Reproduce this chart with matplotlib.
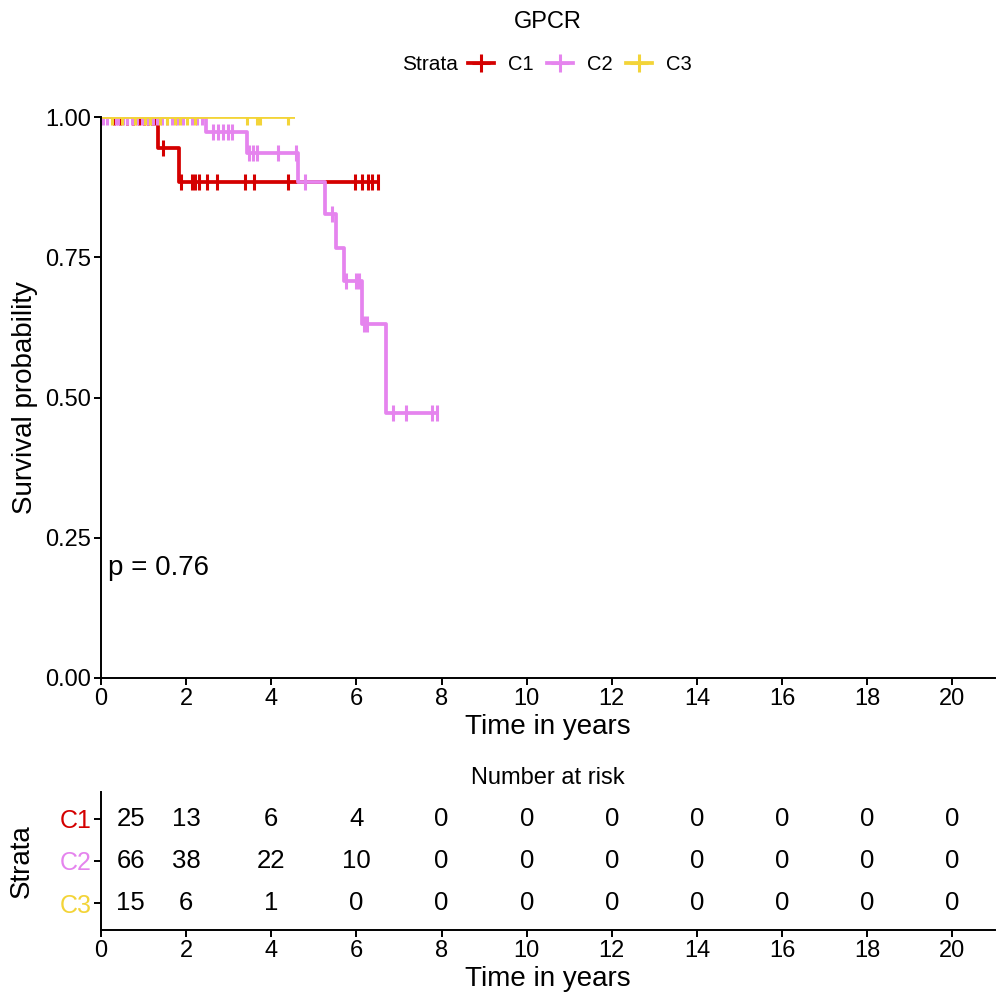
import matplotlib
matplotlib.use("Agg")
import matplotlib.pyplot as plt
from matplotlib.lines import Line2D
import numpy as np

plt.rcParams['font.family'] = ['Liberation Sans', 'DejaVu Sans']

# ---------------- data ----------------
strata = ["C1", "C2", "C3"]
colors = ["#D40000", "#E584EE", "#F3D438"]

c1_event_times = [1.34, 1.83]
c1_event_surv = [0.944, 0.885]
c1_end = 6.5
c1_censor = [0.3, 0.45, 0.6, 0.75, 0.9, 1.0, 1.1, 1.2, 1.28, 1.46, 1.88, 2.14,
             2.21, 2.30, 2.49, 2.72, 3.38, 3.59, 4.39, 5.96, 6.13, 6.27, 6.36, 6.5]

c2_event_times = [2.46, 3.43, 4.62, 5.26, 5.52, 5.70, 6.13, 6.69]
c2_event_surv = [0.973, 0.936, 0.884, 0.827, 0.766, 0.708, 0.631, 0.472]
c2_end = 7.9
c2_censor = [0.05, 0.15, 0.35, 0.4, 0.52, 0.6, 0.72, 0.84, 0.96, 1.1, 1.22, 1.31,
             1.43, 1.55, 1.67, 1.78, 1.92, 2.14, 2.25, 2.37,
             2.63, 2.75, 2.86, 2.98, 3.08, 3.47, 3.57, 3.66, 4.15, 4.58, 4.79,
             5.42, 5.75, 5.99, 6.06, 6.17, 6.24, 6.85, 7.16, 7.77, 7.9]

c3_event_times = []
c3_event_surv = []
c3_end = 4.55
c3_censor = [0.25, 0.5, 0.8, 1.03, 1.15, 1.39, 1.55, 1.74, 1.86, 2.02, 2.2,
             3.43, 3.66, 3.73, 4.4]

risk_times = [0, 2, 4, 6, 8, 10, 12, 14, 16, 18, 20]
risk_c1 = [25, 13, 6, 4, 0, 0, 0, 0, 0, 0, 0]
risk_c2 = [66, 38, 22, 10, 0, 0, 0, 0, 0, 0, 0]
risk_c3 = [15, 6, 1, 0, 0, 0, 0, 0, 0, 0, 0]

p_text = "p = 0.76"
title = "GPCR"

curves = [
    (c1_event_times, c1_event_surv, c1_end, c1_censor),
    (c2_event_times, c2_event_surv, c2_end, c2_censor),
    (c3_event_times, c3_event_surv, c3_end, c3_censor),
]
risks = [risk_c1, risk_c2, risk_c3]

# ---------------- figure ----------------
W = 1008
fig = plt.figure(figsize=(10.08, 10.08), dpi=100)

def fx(px):
    return px / W

def fy(py):
    return 1 - py / W

ax = fig.add_axes([fx(101), fy(678), fx(995) - fx(101), fy(117) - fy(678)])
axr = fig.add_axes([fx(101), fy(930), fx(995) - fx(101), fy(792) - fy(930)])

lw = 2.7
for (et, es, end, cens), col in zip(curves, colors):
    xs = [0] + list(et) + [end]
    ys = [1.0] + list(es) + [es[-1] if len(es) else 1.0]
    ax.step(xs, ys, where="post", color=col, lw=lw, solid_capstyle="butt")
    cy = []
    for c in cens:
        idx = np.searchsorted(np.array(et), c, side="right")
        cy.append(1.0 if idx == 0 else es[idx - 1])
    ax.plot(cens, cy, linestyle="none", marker="|", markersize=12,
            markeredgewidth=2.2, color=col)

ax.set_xlim(0, 21)
ax.set_ylim(0, 1)
ax.set_xticks(np.arange(0, 21, 2))
ax.set_yticks([0, 0.25, 0.5, 0.75, 1.0])
ax.set_yticklabels(["0.00", "0.25", "0.50", "0.75", "1.00"])
for a in (ax, axr):
    a.spines["top"].set_visible(False)
    a.spines["right"].set_visible(False)
    a.spines["left"].set_linewidth(1.4)
    a.spines["bottom"].set_linewidth(1.4)
    a.tick_params(axis="both", direction="out", length=5, width=1.4,
                  labelsize=17, pad=2, colors="black")
ax.set_xlabel("Time in years", fontsize=20, labelpad=3)
ax.set_ylabel("Survival probability", fontsize=20, labelpad=5)
ax.text(0.16, 0.196, p_text, fontsize=20, ha="left", va="center")

# risk table
ypos = [3, 2, 1]
for r, yv in zip(risks, ypos):
    for t, n in zip(risk_times, r):
        xt = 0.7 if t == 0 else t
        axr.text(xt, yv, str(n), ha="center", va="center", fontsize=18.5)
axr.set_xlim(0, 21)
axr.set_ylim(0.36, 3.64)
axr.set_xticks(np.arange(0, 21, 2))
axr.set_yticks(ypos)
axr.set_yticklabels(strata)
for lab, col in zip(axr.get_yticklabels(), colors):
    lab.set_color(col)
    lab.set_fontsize(18)
axr.set_xlabel("Time in years", fontsize=20, labelpad=3)
axr.set_ylabel("Strata", fontsize=20, labelpad=18)
axr.set_title("Number at risk", fontsize=17, pad=6)

# title & legend
fig.text(fx(548), fy(22), title, ha="center", va="center", fontsize=17)
fig.text(fx(402), fy(65), "Strata", ha="left", va="center", fontsize=15)
handles = [Line2D([0], [0], color=c, lw=2.7, marker="+", markersize=13,
                  markeredgewidth=2.2) for c in colors]
fig.legend(handles, strata, loc="center left",
           bbox_to_anchor=(fx(468), fy(65)), ncol=3, frameon=False,
           fontsize=14.5, handlelength=1.3, handletextpad=0.7,
           columnspacing=0.65, borderaxespad=0, borderpad=0)

fig.savefig("out.png", dpi=100)
